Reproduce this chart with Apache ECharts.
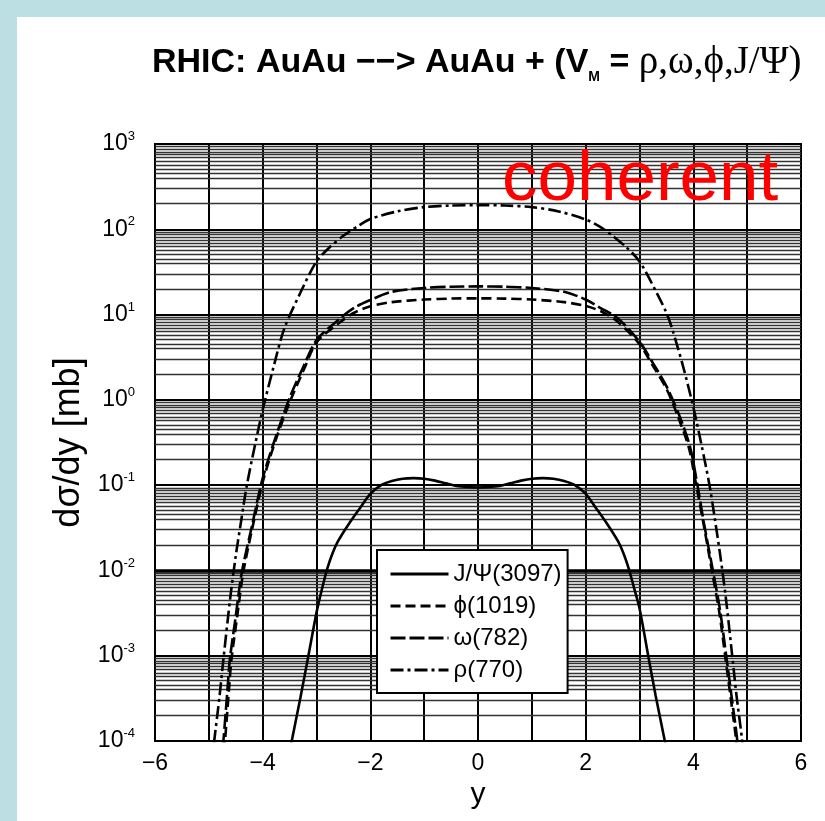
<!DOCTYPE html>
<html>
<head>
<meta charset="utf-8">
<title>RHIC coherent vector meson production</title>
<script src="https://cdn.jsdelivr.net/npm/echarts@6/dist/echarts.min.js"></script>
<style>
  html, body { margin: 0; padding: 0; background: #bcdfe3; }
  #chart { position: absolute; left: 17px; top: 17px; width: 808px; height: 804px; background: #fff; }
</style>
</head>
<body>
<div id="chart"></div>
<script>
// rapidity y vs dσ/dy [mb]
const jpsi = [
  [-3.55, 5e-5], [-3.46, 1e-4], [-3.3, 3.2e-4], [-3.15, 1e-3], [-3.0, 3.2e-3], [-2.9, 6e-3],
  [-2.8, 0.0105], [-2.7, 0.016], [-2.6, 0.022], [-2.4, 0.035], [-2.2, 0.053], [-2.0, 0.079],
  [-1.8, 0.1], [-1.6, 0.112], [-1.4, 0.119], [-1.2, 0.121], [-1.0, 0.119], [-0.8, 0.113],
  [-0.6, 0.105], [-0.4, 0.098], [-0.2, 0.095], [0, 0.094], [0.2, 0.095], [0.4, 0.098],
  [0.6, 0.105], [0.8, 0.113], [1.0, 0.119], [1.2, 0.121], [1.4, 0.119], [1.6, 0.112],
  [1.8, 0.1], [2.0, 0.079], [2.2, 0.053], [2.4, 0.035], [2.6, 0.022], [2.7, 0.016],
  [2.8, 0.0105], [2.9, 6.2e-3], [3.0, 3.6e-3], [3.15, 1.1e-3], [3.3, 3.4e-4], [3.47, 1e-4],
  [3.56, 5e-5]
]
const phi = [
  [-4.75, 5e-5], [-4.7, 1e-4], [-4.62, 4.5e-4], [-4.58, 9e-4], [-4.47, 3e-3], [-4.36, 9.5e-3],
  [-4.18, 0.034], [-3.98, 0.12], [-3.73, 0.38], [-3.48, 1.0], [-3.23, 2.3], [-3.0, 4.7],
  [-2.6, 7.8], [-2.3, 10.5], [-2.0, 12.5], [-1.6, 14], [-1.0, 15], [-0.5, 15.4], [0, 15.5],
  [0.5, 15.4], [1.0, 15], [1.6, 14], [2.0, 12.6], [2.3, 10.8], [2.6, 8.2], [3.0, 4.5],
  [3.25, 2.5], [3.5, 1.35], [3.73, 0.6], [3.92, 0.27], [4.03, 0.12], [4.18, 0.038],
  [4.35, 9.5e-3], [4.48, 3.3e-3], [4.6, 9e-4], [4.7, 3e-4], [4.79, 1.1e-4], [4.84, 5e-5]
]
const omega = [
  [-4.78, 5e-5], [-4.73, 1e-4], [-4.65, 4.3e-4], [-4.61, 9e-4], [-4.5, 2.9e-3], [-4.39, 9.3e-3],
  [-4.2, 0.033], [-4.0, 0.12], [-3.75, 0.38], [-3.5, 1.05], [-3.25, 2.4], [-3.0, 5.0],
  [-2.6, 8.6], [-2.3, 12], [-2.0, 14.8], [-1.6, 18.5], [-1.0, 20.5], [-0.5, 21.2], [0, 21.4],
  [0.5, 21.2], [1.0, 20.5], [1.6, 18.5], [2.0, 15], [2.27, 12], [2.6, 9], [3.0, 4.8],
  [3.25, 2.7], [3.5, 1.45], [3.75, 0.63], [3.94, 0.28], [4.05, 0.125], [4.2, 0.035],
  [4.37, 9.5e-3], [4.5, 3.3e-3], [4.62, 9e-4], [4.72, 3e-4], [4.81, 1.1e-4], [4.86, 5e-5]
]
const rho = [
  [-4.95, 5e-5], [-4.9, 1e-4], [-4.8, 3.4e-4], [-4.73, 9e-4], [-4.6, 4.9e-3], [-4.5, 0.0148],
  [-4.4, 0.038], [-4.3, 0.095], [-4.15, 0.28], [-4.0, 0.76], [-3.8, 2.4], [-3.6, 6.8],
  [-3.3, 18], [-3.0, 42], [-2.75, 62], [-2.5, 84], [-2.2, 112], [-2.0, 132], [-1.5, 162],
  [-1.0, 182], [-0.5, 190], [0, 192], [0.5, 190], [1.0, 182], [1.5, 162], [2.0, 130],
  [2.27, 107], [2.5, 84], [2.75, 62], [3.0, 42], [3.3, 19], [3.5, 10.5], [3.6, 7],
  [3.8, 2.6], [4.0, 0.82], [4.15, 0.3], [4.3, 0.1], [4.4, 0.04], [4.5, 0.015], [4.6, 5e-3],
  [4.73, 9e-4], [4.8, 3.5e-4], [4.9, 1.1e-4], [4.95, 5e-5]
]
const seriesNames = ['J/Ψ(3097)', 'ϕ(1019)', 'ω(782)', 'ρ(770)']
const xTicks = [-6, -4, -2, 0, 2, 4, 6]
// decades and minor gridline multipliers of the log paper
const decades = [1e-4, 1e-3, 1e-2, 1e-1, 1, 10, 100]
const minorMult = [2, 3, 4, 4.5, 5.1, 5.7, 6.3, 6.9, 7.5, 8.1, 8.7, 9.3]

const font = "'Liberation Sans', Arial, sans-serif"

const gridLines = []
decades.forEach(d => {
  minorMult.forEach(m => gridLines.push({ yAxis: d * m }))
})
gridLines.push({ yAxis: 1e-2, lineStyle: { width: 3.5, color: '#000' } })

const chart = echarts.init(document.getElementById('chart'))

const curve = (name, data, type, z) => ({
  name: name,
  type: 'line',
  data: data,
  symbol: 'none',
  smooth: 0.3,
  z: z,
  lineStyle: { color: '#000', width: 2.6, type: type },
  itemStyle: { color: '#000' }
})

chart.setOption({
  animation: false,
  title: {
    text: '{a|RHIC: AuAu \u2212\u2212> AuAu + (V}{s|M}{a| = }{g|ρ,ω,ϕ,J/Ψ)}',
    left: 135,
    top: 25,
    padding: 0,
    textStyle: {
      rich: {
        a: { fontFamily: font, fontWeight: 'bold', fontSize: 34, color: '#000', lineHeight: 42 },
        s: { fontFamily: font, fontWeight: 'bold', fontSize: 14, color: '#000', verticalAlign: 'bottom', lineHeight: 14 },
        g: { fontFamily: "'Liberation Serif', 'Times New Roman', serif", fontWeight: 'normal', fontSize: 39, color: '#000', lineHeight: 42 }
      }
    }
  },
  legend: {
    data: seriesNames,
    orient: 'vertical',
    left: 360,
    top: 533,
    z: 20,
    padding: [12, 6, 11, 12],
    itemGap: 8,
    itemWidth: 58,
    itemHeight: 14,
    backgroundColor: '#fff',
    borderColor: '#000',
    borderWidth: 2,
    borderRadius: 0,
    lineStyle: { width: 3 },
    itemStyle: { color: 'transparent', opacity: 0, borderWidth: 0 },
    textStyle: { fontFamily: font, fontSize: 24, color: '#000', lineHeight: 22 }
  },
  grid: {
    left: 138,
    top: 127,
    width: 646,
    height: 597,
    show: true,
    borderColor: '#000',
    borderWidth: 2,
    backgroundColor: 'transparent'
  },
  xAxis: {
    type: 'value',
    min: -6,
    max: 6,
    interval: 1,
    name: 'y',
    nameLocation: 'middle',
    nameGap: 38,
    nameTextStyle: { fontFamily: font, fontSize: 30, color: '#000' },
    axisLine: { show: true, lineStyle: { color: '#000', width: 2 } },
    axisTick: { show: false },
    splitLine: { show: true, lineStyle: { color: '#000', width: 2 } },
    axisLabel: {
      margin: 11,
      fontFamily: font,
      fontSize: 23,
      color: '#000',
      formatter: v => xTicks.includes(v) ? String(v).replace('-', '\u2212') : ''
    }
  },
  yAxis: {
    type: 'log',
    logBase: 10,
    min: 1e-4,
    max: 1e3,
    interval: 1,
    name: 'dσ/dy [mb]',
    nameLocation: 'middle',
    nameGap: 67,
    nameTextStyle: { fontFamily: font, fontSize: 36, color: '#000' },
    axisLine: { show: true, lineStyle: { color: '#000', width: 2 } },
    axisTick: { show: false },
    splitLine: { show: true, lineStyle: { color: '#000', width: 2 } },
    axisLabel: {
      margin: 20,
      formatter: v => '{b|10}{e|' + Math.round(Math.log10(v)) + '}',
      rich: {
        b: { fontFamily: font, fontSize: 23, color: '#000', lineHeight: 28 },
        e: { fontFamily: font, fontSize: 13, color: '#000', verticalAlign: 'top', lineHeight: 13 }
      }
    }
  },
  graphic: [{
    type: 'text',
    left: 485,
    top: 128,
    z: 100,
    style: {
      text: 'coherent',
      fill: '#ff0000',
      font: "71px 'Liberation Sans', Arial, sans-serif"
    }
  }],
  series: [
    {
      name: 'paper',
      type: 'line',
      data: [],
      z: 1,
      silent: true,
      markLine: {
        silent: true,
        z: 1,
        precision: 10,
        symbol: ['none', 'none'],
        label: { show: false },
        lineStyle: { color: '#333', width: 1.3, type: 'solid' },
        emphasis: { disabled: true },
        data: gridLines
      }
    },
    curve(seriesNames[0], jpsi, 'solid', 3),
    curve(seriesNames[1], phi, [10, 5], 4),
    curve(seriesNames[2], omega, [15, 4], 5),
    curve(seriesNames[3], rho, [13, 4, 3, 4], 6)
  ]
})
</script>
</body>
</html>
